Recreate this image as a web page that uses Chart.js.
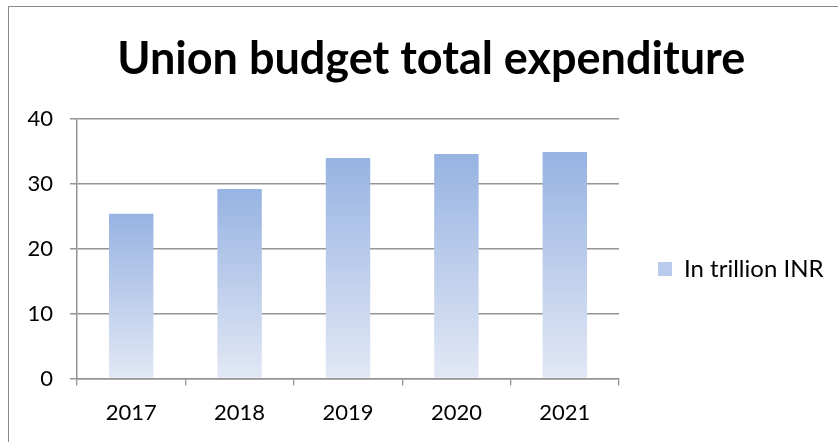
<!DOCTYPE html>
<html>
<head>
<meta charset="utf-8">
<script src="https://cdn.jsdelivr.net/npm/chart.js@4"></script>
<style>
    html, body { margin: 0; padding: 0; background: #fff; }
    .chart-container { position: relative; width: 838px; height: 442px; }
    .frame {
        position: absolute; left: 8px; top: 6px; right: -10px; bottom: -10px;
        border-left: 1.5px solid #8a8a8a; border-top: 1.5px solid #8a8a8a;
        pointer-events: none;
    }
</style>
</head>
<body>
<div class="chart-container">
    <canvas id="budgetChart" width="838" height="442"></canvas>
    <div class="frame"></div>
</div>
<script>
// Union budget total expenditure, in trillion INR
const years = ['2017', '2018', '2019', '2020', '2021'];
const expenditure = [25.4, 29.2, 34.0, 34.6, 34.9];
const yTicks = [0, 10, 20, 30, 40];

const barTop = '#97b3e2';
const barBottom = '#e2e8f5';
const gridColor = '#959595';
const fontFamily = 'Lato, "Open Sans", sans-serif';

// each bar gets its own vertical gradient, light at the base
function barGradient(context) {
    const chart = context.chart;
    if (!chart.chartArea) return barTop;
    const y = chart.scales.y;
    const top = y.getPixelForValue(context.raw);
    const base = y.getPixelForValue(0);
    const g = chart.ctx.createLinearGradient(0, top, 0, base);
    g.addColorStop(0, barTop);
    g.addColorStop(1, barBottom);
    return g;
}

// nudge the title right, and the legend away from the plot and lower down
const blockOffsets = {
    id: 'blockOffsets',
    afterLayout(chart) {
        chart.titleBlock.left += 17;
        chart.titleBlock.right += 17;
        chart.legend.left += 29;
        chart.legend.right += 29;
        chart.legend.top += 49;
        chart.legend.bottom += 49;
    }
};

const ctx = document.getElementById('budgetChart').getContext('2d');

new Chart(ctx, {
    type: 'bar',
    data: {
        labels: years,
        datasets: [{
            label: 'In trillion INR',
            data: expenditure,
            backgroundColor: barGradient,
            borderWidth: 0,
            barPercentage: 0.41,
            categoryPercentage: 1
        }]
    },
    options: {
        responsive: false,
        animation: false,
        layout: {
            padding: { left: 24, right: 33.5, top: 0, bottom: 2 }
        },
        plugins: {
            title: {
                display: true,
                text: 'Union budget total expenditure',
                color: '#000',
                font: { family: fontFamily, size: 45, weight: 'bold' },
                padding: { top: 32, bottom: 33 }
            },
            legend: {
                display: true,
                position: 'right',
                labels: {
                    color: '#000',
                    font: { family: fontFamily, size: 24 },
                    boxWidth: 14,
                    boxHeight: 14,
                    padding: 10,
                    generateLabels: function(chart) {
                        return [{
                            text: chart.data.datasets[0].label,
                            fillStyle: '#b9cbec',
                            strokeStyle: '#b9cbec',
                            lineWidth: 0,
                            datasetIndex: 0
                        }];
                    }
                }
            },
            tooltip: { enabled: false }
        },
        scales: {
            x: {
                grid: {
                    display: true,
                    drawOnChartArea: false,
                    offset: true,
                    color: gridColor,
                    lineWidth: 1.3,
                    tickLength: 7
                },
                border: { color: gridColor, width: 1.5 },
                ticks: {
                    color: '#000',
                    font: { family: fontFamily, size: 22 },
                    padding: 14
                }
            },
            y: {
                min: 0,
                max: 40,
                afterBuildTicks: function(scale) {
                    scale.ticks = yTicks.map(v => ({ value: v }));
                },
                afterFit: function(scale) {
                    scale.width = 53;
                },
                grid: {
                    color: gridColor,
                    lineWidth: 1.5,
                    tickLength: 7
                },
                border: { color: gridColor, width: 1.5 },
                ticks: {
                    color: '#000',
                    font: { family: fontFamily, size: 22 },
                    padding: 17
                }
            }
        }
    },
    plugins: [blockOffsets]
});
</script>
</body>
</html>
